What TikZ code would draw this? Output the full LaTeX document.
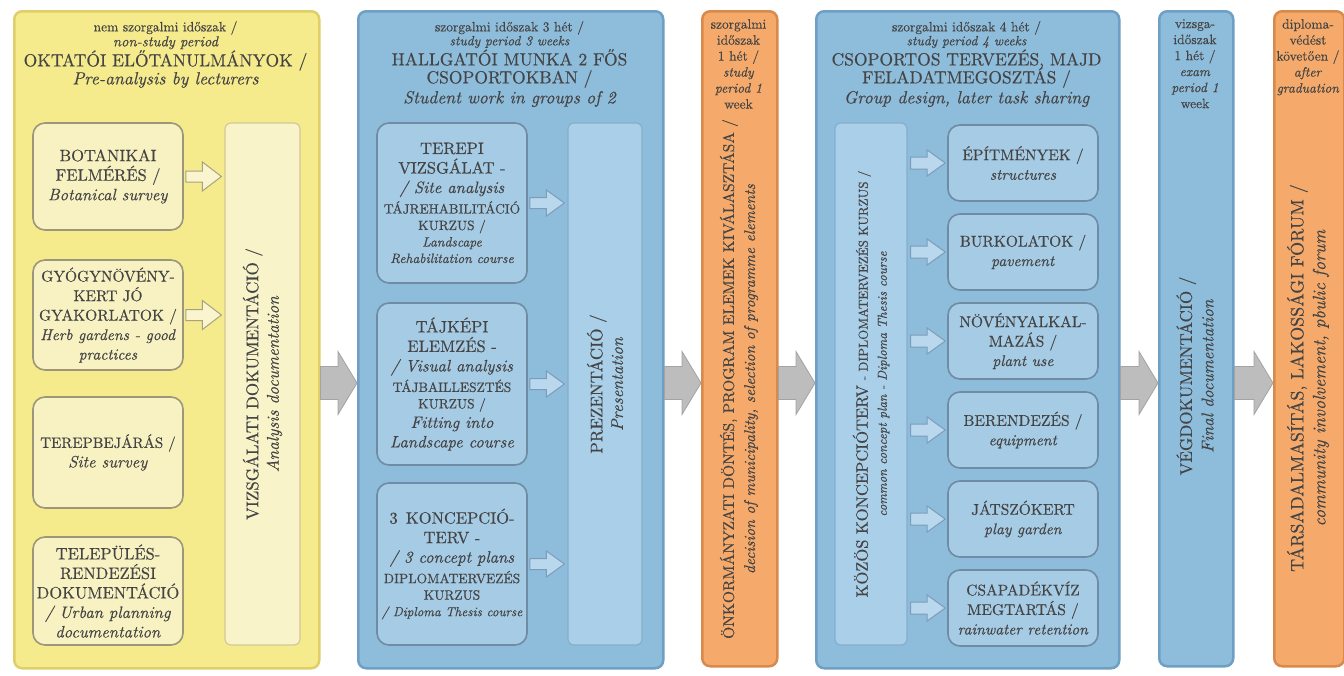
\documentclass[tikz,border=0pt]{standalone}
\usepackage{fontspec}
\setmainfont{lmroman10-regular.otf}[FakeBold=0.35,
  ItalicFont=lmroman10-italic.otf, BoldFont=lmroman10-bold.otf,
  BoldItalicFont=lmroman10-bolditalic.otf]
\usetikzlibrary{calc}
\definecolor{txt}{HTML}{444444}
\definecolor{ybg}{HTML}{F5EA8C}
\definecolor{yedge}{HTML}{E0CF68}
\definecolor{ybox}{HTML}{F8F2C2}
\definecolor{yrim}{HTML}{9C977A}
\definecolor{yvbox}{HTML}{F9F3CA}
\definecolor{yvrim}{HTML}{D3C996}
\definecolor{yarrf}{HTML}{FAF5CF}
\definecolor{yarrd}{HTML}{A8A282}
\definecolor{bbg}{HTML}{8EBCDB}
\definecolor{bedge}{HTML}{6E9FC4}
\definecolor{bbox}{HTML}{A6CBE5}
\definecolor{brim}{HTML}{6F8CA4}
\definecolor{bvbox}{HTML}{AACFE9}
\definecolor{bvrim}{HTML}{86AECD}
\definecolor{barrf}{HTML}{B9D8EE}
\definecolor{barrd}{HTML}{7C9DB8}
\definecolor{obg}{HTML}{F5AA6B}
\definecolor{oedge}{HTML}{D88A4C}
\definecolor{garrf}{HTML}{BDBDBD}
\definecolor{garrd}{HTML}{A3A3A3}
\newcommand{\fsS}{\fontsize{13.5}{16}\selectfont}
\newcommand{\fsSi}{\fontsize{13.5}{16}\selectfont\itshape}
\newcommand{\fsSs}{\fontsize{13}{16}\selectfont\itshape}
\newcommand{\fsH}{\fontsize{17.5}{20}\selectfont}
\newcommand{\fsB}{\fontsize{16.5}{19.5}\selectfont}
\newcommand{\fsBm}{\fontsize{15.5}{19.5}\selectfont}
\newcommand{\fsBs}{\fontsize{15}{19.5}\selectfont}
\newcommand{\fsN}{\fontsize{13.5}{15}\selectfont}
\newcommand{\fsNi}{\fontsize{14.5}{15}\selectfont\itshape}
\newcommand{\fsNn}{\fontsize{13.5}{16}\selectfont}
\newcommand{\fsV}{\fontsize{17}{20.5}\selectfont}
\newcommand{\fsVm}{\fontsize{15.5}{21}\selectfont}
\newcommand{\fsVn}{\fontsize{17}{21.5}\selectfont}
\newcommand{\fsVw}{\fontsize{18}{22}\selectfont}
\newcommand{\fsVk}{\fontsize{15}{19}\selectfont}
\newcommand{\fsK}{\fontsize{16.5}{19}\selectfont}
\newcommand{\fsKs}{\fontsize{13}{16}\selectfont}
\newcommand{\blockarrow}[6]{%
  \draw[#1] let \p1=(#2), \p2=(#3) in
    (\x1,\y1+#4) -- (\x2-#6,\y1+#4) -- (\x2-#6,\y1+#5) -- (\x2,\y1)
    -- (\x2-#6,\y1-#5) -- (\x2-#6,\y1-#4) -- (\x1,\y1-#4) -- cycle;}
\begin{document}
\lineskiplimit=-50pt
\begin{tikzpicture}[x=1pt,y=-1pt,
  col/.style={rounded corners=8pt, line width=2.5pt, anchor=north west, inner sep=0pt},
  ycol/.style={col, fill=ybg, draw=yedge},
  bcol/.style={col, fill=bbg, draw=bedge},
  ocol/.style={col, fill=obg, draw=oedge},
  ibox/.style={rounded corners=12pt, line width=1.6pt, align=center, text=txt,
    inner sep=0pt, font=\fsB},
  ybx/.style={ibox, fill=ybox, draw=yrim},
  bbx/.style={ibox, fill=bbox, draw=brim},
  rbx/.style={bbx, font=\fsBm, minimum width=150pt, minimum height=76pt},
  vbx/.style={rounded corners=6pt, line width=1.2pt, inner sep=0pt},
  yv/.style={vbx, fill=yvbox, draw=yvrim},
  bv/.style={vbx, fill=bvbox, draw=bvrim},
  hdr/.style={align=center, text=txt, inner sep=0pt, anchor=north, font=\fsN},
  nhdr/.style={hdr, font=\fsNn},
  vtxt/.style={rotate=90, align=center, text=txt, inner sep=0pt, font=\fsV},
  garr/.style={fill=garrf, draw=garrd, line width=0.8pt},
  yarr/.style={fill=yarrf, draw=yarrd, line width=1pt},
  barr/.style={fill=barrf, draw=barrd, line width=1pt}
]
\useasboundingbox (0,0) rectangle (1344,675);
\fill[white] (0,0) rectangle (1344,675);
\coordinate (ay) at (0,383);

% columns
\node[ycol, minimum width=305pt, minimum height=657pt] (c1) at (13,10) {};
\node[bcol, minimum width=305pt, minimum height=657pt] (c2) at (357,10) {};
\node[ocol, minimum width=75pt, minimum height=655pt] (c3) at (701,10) {};
\node[bcol, minimum width=303pt, minimum height=657pt] (c4) at (815,10) {};
\node[bcol, minimum width=74pt, minimum height=655pt] (c5) at (1158,10) {};
\node[ocol, minimum width=70pt, minimum height=655pt] (c6) at (1273,10) {};

% big grey arrows
\blockarrow{garr}{c1.east |- ay}{c2.west |- ay}{16.5pt}{31.5pt}{19pt}
\blockarrow{garr}{c2.east |- ay}{c3.west |- ay}{16.5pt}{31.5pt}{19pt}
\blockarrow{garr}{c3.east |- ay}{c4.west |- ay}{16.5pt}{31.5pt}{19pt}
\blockarrow{garr}{c4.east |- ay}{c5.west |- ay}{16.5pt}{31.5pt}{19pt}
\blockarrow{garr}{c5.east |- ay}{c6.west |- ay}{16.5pt}{31.5pt}{19pt}

% ---------- column 1
\node[hdr] (h1) at (165.5,21) {nem szorgalmi időszak /\\\fsNi non-study period\\[5pt]
  \fsH OKTATÓI ELŐTANULMÁNYOK /\\[3pt]\fsH\itshape Pre-analysis by lecturers};
\node[ybx, minimum width=150pt, minimum height=107pt] (b11) at (108,176.5)
  {BOTANIKAI\\FELMÉRÉS /\\\textit{Botanical survey}};
\node[ybx, font=\fsBm, minimum width=150pt, minimum height=110pt] (b12) at (108,315)
  {GYÓGYNÖVÉNY-\\KERT JÓ\\GYAKORLATOK /\\\textit{Herb gardens - good}\\\textit{practices}};
\node[ybx, minimum width=150pt, minimum height=111pt] (b13) at (108,452.5)
  {\fsBs TEREPBEJÁRÁS /\\\textit{Site survey}};
\node[ybx, minimum width=150pt, minimum height=108pt] (b14) at (108,591)
  {TELEPÜLÉS-\\RENDEZÉSI\\DOKUMENTÁCIÓ\\\textit{/ Urban planning}\\\textit{documentation}};
\node[yv, minimum width=75pt, minimum height=522pt] (v1) at (262.5,384) {};
\node[vtxt] (t1) at (v1.center) {VIZSGÁLATI DOKUMENTÁCIÓ /\\\textit{Analysis documentation}};
\blockarrow{yarr}{$(b11.east)+(2,0)$}{$(v1.west |- b11.east)+(-3,0)$}{5.5pt}{14.5pt}{19pt}
\blockarrow{yarr}{$(b12.east)+(2,0)$}{$(v1.west |- b12.east)+(-3,0)$}{5.5pt}{14.5pt}{19pt}

% ---------- column 2
\node[hdr] (h2) at (509.5,21) {szorgalmi időszak 3 hét /\\[-1pt]\textit{study period 3 weeks}\\[5pt]
  \fsH HALLGATÓI MUNKA 2 FŐS\\[3pt]\fsH CSOPORTOKBAN /\\[5pt]\fsH\itshape Student work in groups of 2};
\node[bbx, minimum width=150pt, minimum height=160pt] (b21) at (452,203)
  {TEREPI\\VIZSGÁLAT -\\\textit{/ Site analysis}\\[1pt]\fsS TÁJREHABILITÁCIÓ\\[-3pt]\fsS KURZUS /\\[-3pt]\fsSi Landscape\\[-3pt]\fsSi Rehabilitation course};
\node[bbx, minimum width=150pt, minimum height=162pt] (b22) at (452,384)
  {TÁJKÉPI\\ELEMZÉS -\\\textit{/ Visual analysis}\\[1pt]\fsS TÁJBAILLESZTÉS\\[-3pt]\fsS KURZUS /\\\textit{Fitting into}\\\textit{Landscape course}};
\node[bbx, minimum width=150pt, minimum height=162pt] (b23) at (452,564)
  {3\enspace KONCEPCIÓ-\\TERV -\\\textit{/ 3 concept plans}\\[1pt]\fsS DIPLOMATERVEZÉS\\[-3pt]\fsS KURZUS\\[-3pt]\fsSs / Diploma Thesis course};
\node[bv, minimum width=74pt, minimum height=522pt] (v2) at (605,384) {};
\node[vtxt] (t2) at (v2.center) {PREZENTÁCIÓ /\\\textit{Presentation}};
\blockarrow{barr}{$(b21.east)+(2,0)$}{$(v2.west |- b21.east)+(-3,0)$}{5.5pt}{13pt}{18pt}
\blockarrow{barr}{$(b22.east)+(2,0)$}{$(v2.west |- b22.east)+(-3,0)$}{5.5pt}{13pt}{18pt}
\blockarrow{barr}{$(b23.east)+(2,0)$}{$(v2.west |- b23.east)+(-3,0)$}{5.5pt}{13pt}{18pt}

% ---------- column 3
\node[nhdr] (h3) at (738.5,19) {szorgalmi\\időszak\\1 hét /\\\textit{study}\\\textit{period 1}\\week};
\node[vtxt, font=\fsVm] (t3) at (739,379) {ÖNKORMÁNYZATI DÖNTÉS, PROGRAM ELEMEK KIVÁLASZTÁSA /\\\textit{decision of municipality, selection of programme elements}};

% ---------- column 4
\node[hdr] (h4) at (966.5,21) {szorgalmi időszak 4 hét /\\[-1pt]\textit{study period 4 weeks}\\[5pt]
  \fsH CSOPORTOS TERVEZÉS, MAJD\\[3pt]\fsH FELADATMEGOSZTÁS /\\[5pt]\fsH\itshape Group design, later task sharing};
\node[bv, minimum width=72pt, minimum height=522pt] (v4) at (871,384) {};
\node[vtxt, font=\fsVk] (t4) at (v4.center)
  {{\fsK KÖZÖS KONCEPCIÓTERV} {\fsKs - DIPLOMATERVEZÉS KURZUS /}\\\fsKs\itshape common concept plan - Diploma Thesis course};
\node[rbx] (r1) at (1023,163) {ÉPÍTMÉNYEK /\\\textit{structures}};
\node[rbx] (r2) at (1023,252) {BURKOLATOK /\\\textit{pavement}};
\node[rbx] (r3) at (1023,341) {NÖVÉNYALKAL-\\MAZÁS /\\\textit{plant use}};
\node[rbx] (r4) at (1023,430) {BERENDEZÉS /\\\textit{equipment}};
\node[rbx] (r5) at (1023,519) {JÁTSZÓKERT\\\textit{play garden}};
\node[rbx] (r6) at (1023,608) {CSAPADÉKVÍZ\\MEGTARTÁS /\\\textit{rainwater retention}};
\foreach \r in {r1,r2,r3,r4,r5,r6}{
  \blockarrow{barr}{$(v4.east |- \r.west)+(3,0)$}{$(\r.west)+(-2,0)$}{6pt}{13pt}{18pt}
}

% ---------- column 5
\node[nhdr] (h5) at (1195,19) {vizsga-\\időszak\\1 hét /\\\textit{exam}\\\textit{period 1}\\week};
\node[vtxt, font=\fsVn] (t5) at (1195,376) {VÉGDOKUMENTÁCIÓ /\\\textit{Final documentation}};

% ---------- column 6
\node[nhdr] (h6) at (1308,19) {diploma-\\védést\\követően /\\\textit{after}\\\textit{graduation}};
\node[vtxt, font=\fsVw] (t6) at (1308,378) {TÁRSADALMASÍTÁS, LAKOSSÁGI FÓRUM /\\\textit{community involvement, pbulic forum}};
\end{tikzpicture}
\end{document}
